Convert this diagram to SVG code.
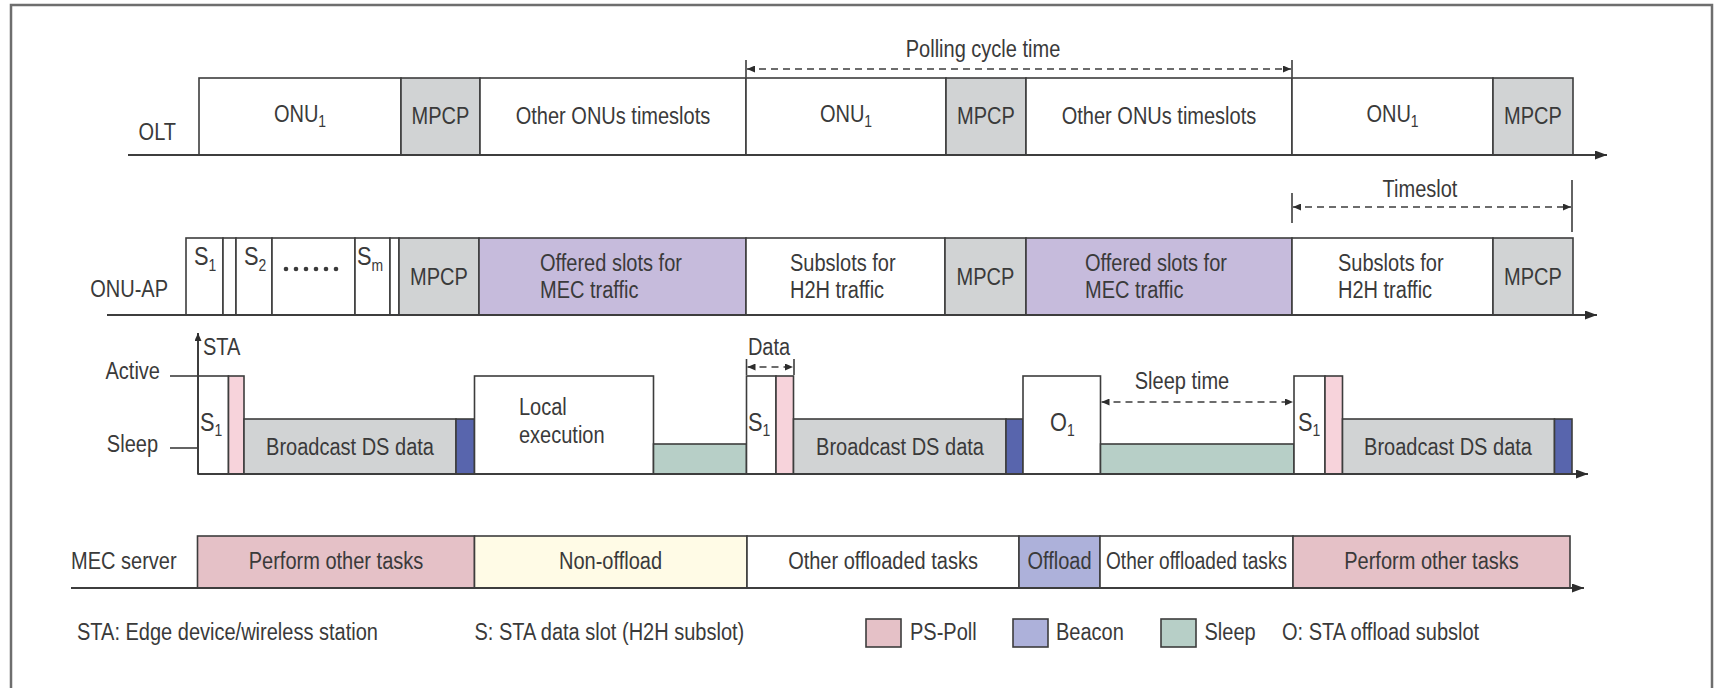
<svg xmlns="http://www.w3.org/2000/svg" width="1721" height="688" viewBox="0 0 1721 688">
<defs>
<style>
.t{font-family:"Liberation Sans",Arial,sans-serif;font-size:23px;fill:#3a3a3a}
.m{text-anchor:middle}
.e{text-anchor:end}
.sub{font-size:16px}
.big{font-size:25px}
.box{stroke:#3d3d3d;stroke-width:1.6}
.w{fill:#fff}
.g{fill:#d1d3d4}
.p{fill:#c6bbdc}
.pk{fill:#f7d3db}
.bl{fill:#5865ad}
.sl{fill:#b7cfc7}
.pf{fill:#e5c1c7}
.ye{fill:#fffbe6}
.of{fill:#adb1da}
.ax{stroke:#3d3d3d;stroke-width:2;fill:none}
.dim{stroke:#3d3d3d;stroke-width:1.6;stroke-dasharray:7 5;fill:none}
.tick{stroke:#3d3d3d;stroke-width:1.6}
.dot{fill:#3a3a3a}
</style>
<marker id="ah" viewBox="0 0 12 9" refX="12" refY="4.5" markerWidth="12" markerHeight="9" markerUnits="userSpaceOnUse" orient="auto-start-reverse"><path d="M0,0 L12,4.5 L0,9 z" fill="#2d2d2d"/></marker>
<marker id="sh" viewBox="0 0 8 7" refX="8" refY="3.5" markerWidth="8" markerHeight="7" markerUnits="userSpaceOnUse" orient="auto-start-reverse"><path d="M0,0 L8,3.5 L0,7 z" fill="#2d2d2d"/></marker>
</defs>
<rect x="0" y="0" width="1721" height="688" fill="#fff"/>
<rect id="frame" x="11" y="5" width="1701" height="720" fill="none" stroke="#6e6e6e" stroke-width="2.5"/>

<g id="polling-label"><text class="t m" transform="translate(983 57) scale(.87 1)">Polling cycle time</text></g>

<g id="olt-row">
<g id="olt-label"><text class="t e" transform="translate(176 140) scale(.87 1)">OLT</text></g>
<g id="olt-onu1-a"><rect class="box w" x="199" y="78" width="202" height="77"/><text class="t m" transform="translate(300 122) scale(.87 1)">ONU<tspan class="sub" dy="5">1</tspan></text></g>
<g id="olt-mpcp-a"><rect class="box g" x="401" y="78" width="79" height="77"/><text class="t m" transform="translate(440.5 124) scale(.87 1)">MPCP</text></g>
<g id="olt-other-a"><rect class="box w" x="480" y="78" width="266" height="77"/><text class="t m" transform="translate(613 124) scale(.87 1)">Other ONUs timeslots</text></g>
<g id="olt-onu1-b"><rect class="box w" x="746" y="78" width="200" height="77"/><text class="t m" transform="translate(846 122) scale(.87 1)">ONU<tspan class="sub" dy="5">1</tspan></text></g>
<g id="olt-mpcp-b"><rect class="box g" x="946" y="78" width="80" height="77"/><text class="t m" transform="translate(986 124) scale(.87 1)">MPCP</text></g>
<g id="olt-other-b"><rect class="box w" x="1026" y="78" width="266" height="77"/><text class="t m" transform="translate(1159 124) scale(.87 1)">Other ONUs timeslots</text></g>
<g id="olt-onu1-c"><rect class="box w" x="1292" y="78" width="201" height="77"/><text class="t m" transform="translate(1392.5 122) scale(.87 1)">ONU<tspan class="sub" dy="5">1</tspan></text></g>
<g id="olt-mpcp-c"><rect class="box g" x="1493" y="78" width="80" height="77"/><text class="t m" transform="translate(1533 124) scale(.87 1)">MPCP</text></g>
</g>

<g id="timeslot-label"><text class="t m" transform="translate(1420 197) scale(.87 1)">Timeslot</text></g>

<g id="onuap-row">
<g id="onuap-label"><text class="t e" transform="translate(168 297) scale(.87 1)">ONU-AP</text></g>
<g id="ap-s1"><rect class="box w" x="186" y="238" width="37" height="77"/><text class="t big" transform="translate(194 265) scale(.87 1)">S<tspan class="sub" dy="6">1</tspan></text></g>
<g id="ap-gap1"><rect class="box w" x="223" y="238" width="13" height="77"/></g>
<g id="ap-s2"><rect class="box w" x="236" y="238" width="36" height="77"/><text class="t big" transform="translate(244 265) scale(.87 1)">S<tspan class="sub" dy="6">2</tspan></text></g>
<g id="ap-dots"><rect class="box w" x="272" y="238" width="83" height="77"/>
<circle class="dot" cx="286" cy="269" r="2.3"/><circle class="dot" cx="296" cy="269" r="2.3"/><circle class="dot" cx="306" cy="269" r="2.3"/><circle class="dot" cx="316" cy="269" r="2.3"/><circle class="dot" cx="326" cy="269" r="2.3"/><circle class="dot" cx="336" cy="269" r="2.3"/></g>
<g id="ap-sm"><rect class="box w" x="355" y="238" width="35" height="77"/><text class="t big" transform="translate(357 265) scale(.87 1)">S<tspan class="sub" dy="6">m</tspan></text></g>
<g id="ap-gap2"><rect class="box w" x="390" y="238" width="9" height="77"/></g>
<g id="ap-mpcp-a"><rect class="box g" x="399" y="238" width="80" height="77"/><text class="t m" transform="translate(439 285) scale(.87 1)">MPCP</text></g>
<g id="ap-offered-a"><rect class="box p" x="479" y="238" width="267" height="77"/><text class="t" transform="translate(540 271) scale(.87 1)">Offered slots for</text><text class="t" transform="translate(540 298) scale(.87 1)">MEC traffic</text></g>
<g id="ap-subslots-a"><rect class="box w" x="746" y="238" width="199" height="77"/><text class="t" transform="translate(790 271) scale(.87 1)">Subslots for</text><text class="t" transform="translate(790 298) scale(.87 1)">H2H traffic</text></g>
<g id="ap-mpcp-b"><rect class="box g" x="945" y="238" width="81" height="77"/><text class="t m" transform="translate(985.5 285) scale(.87 1)">MPCP</text></g>
<g id="ap-offered-b"><rect class="box p" x="1026" y="238" width="266" height="77"/><text class="t" transform="translate(1085 271) scale(.87 1)">Offered slots for</text><text class="t" transform="translate(1085 298) scale(.87 1)">MEC traffic</text></g>
<g id="ap-subslots-b"><rect class="box w" x="1292" y="238" width="201" height="77"/><text class="t" transform="translate(1338 271) scale(.87 1)">Subslots for</text><text class="t" transform="translate(1338 298) scale(.87 1)">H2H traffic</text></g>
<g id="ap-mpcp-c"><rect class="box g" x="1493" y="238" width="80" height="77"/><text class="t m" transform="translate(1533 285) scale(.87 1)">MPCP</text></g>
</g>

<g id="sta-row">
<g id="sta-label"><text class="t" transform="translate(203 355) scale(.87 1)">STA</text></g>
<g id="active-label"><text class="t e" transform="translate(160 379) scale(.87 1)">Active</text></g>
<g id="sleep-label"><text class="t e" transform="translate(158 452) scale(.87 1)">Sleep</text></g>
<g id="sta-s1-a"><rect class="box w" x="198" y="376" width="30.5" height="98"/><text class="t big" transform="translate(200 431) scale(.87 1)">S<tspan class="sub" dy="5">1</tspan></text></g>
<g id="sta-pspoll-a"><rect class="box pk" x="228.5" y="376" width="15.5" height="98"/></g>
<g id="sta-bcast-a"><rect class="box g" x="244" y="419" width="212" height="55"/><text class="t m" transform="translate(350 455) scale(.87 1)">Broadcast DS data</text></g>
<g id="sta-beacon-a"><rect class="box bl" x="456" y="419" width="18.5" height="55"/></g>
<g id="sta-local"><rect class="box w" x="474.5" y="376" width="179" height="98"/><text class="t" transform="translate(519 415) scale(.87 1)">Local</text><text class="t" transform="translate(519 443) scale(.87 1)">execution</text></g>
<g id="sta-sleep-a"><rect class="box sl" x="653.5" y="444" width="93" height="30"/></g>
<g id="data-label"><text class="t m" transform="translate(769 355) scale(.87 1)">Data</text></g>
<g id="sta-s1-b"><rect class="box w" x="746.5" y="376" width="29.5" height="98"/><text class="t big" transform="translate(748 431) scale(.87 1)">S<tspan class="sub" dy="5">1</tspan></text></g>
<g id="sta-pspoll-b"><rect class="box pk" x="776" y="376" width="17.5" height="98"/></g>
<g id="sta-bcast-b"><rect class="box g" x="793.5" y="419" width="212.5" height="55"/><text class="t m" transform="translate(900 455) scale(.87 1)">Broadcast DS data</text></g>
<g id="sta-beacon-b"><rect class="box bl" x="1006" y="419" width="17" height="55"/></g>
<g id="sta-o1"><rect class="box w" x="1023" y="376" width="77.5" height="98"/><text class="t big" transform="translate(1050 431) scale(.87 1)">O<tspan class="sub" dy="5">1</tspan></text></g>
<g id="sleep-time-label"><text class="t m" transform="translate(1182 389) scale(.87 1)">Sleep time</text></g>
<g id="sta-sleep-b"><rect class="box sl" x="1100.5" y="444" width="193.5" height="30"/></g>
<g id="sta-s1-c"><rect class="box w" x="1294" y="376" width="31" height="98"/><text class="t big" transform="translate(1298 431) scale(.87 1)">S<tspan class="sub" dy="5">1</tspan></text></g>
<g id="sta-pspoll-c"><rect class="box pk" x="1325" y="376" width="17.5" height="98"/></g>
<g id="sta-bcast-c"><rect class="box g" x="1342.5" y="419" width="212" height="55"/><text class="t m" transform="translate(1448 455) scale(.87 1)">Broadcast DS data</text></g>
<g id="sta-beacon-c"><rect class="box bl" x="1554.5" y="419" width="17.5" height="55"/></g>
</g>

<g id="mec-row">
<g id="mec-label"><text class="t" transform="translate(71 569) scale(.87 1)">MEC server</text></g>
<g id="mec-perform-a"><rect class="box pf" x="197.5" y="536" width="277" height="52"/><text class="t m" transform="translate(336 569) scale(.87 1)">Perform other tasks</text></g>
<g id="mec-nonoffload"><rect class="box ye" x="474.5" y="536" width="272.5" height="52"/><text class="t m" transform="translate(610.5 569) scale(.87 1)">Non-offload</text></g>
<g id="mec-other-a"><rect class="box w" x="747" y="536" width="272" height="52"/><text class="t m" transform="translate(883 569) scale(.87 1)">Other offloaded tasks</text></g>
<g id="mec-offload"><rect class="box of" x="1019" y="536" width="81" height="52"/><text class="t m" transform="translate(1059.5 569) scale(.87 1)">Offload</text></g>
<g id="mec-other-b"><rect class="box w" x="1100" y="536" width="193" height="52"/><text class="t m" transform="translate(1196.5 569) scale(.87 1)" textLength="208" lengthAdjust="spacingAndGlyphs">Other offloaded tasks</text></g>
<g id="mec-perform-b"><rect class="box pf" x="1293" y="536" width="277" height="52"/><text class="t m" transform="translate(1431.5 569) scale(.87 1)">Perform other tasks</text></g>
</g>

<g id="legend">
<g id="legend-sta"><text class="t" transform="translate(77 640) scale(.87 1)">STA: Edge device/wireless station</text></g>
<g id="legend-s"><text class="t" transform="translate(474.5 640) scale(.87 1)">S: STA data slot (H2H subslot)</text></g>
<g id="legend-pspoll"><rect class="box pf" x="866" y="619" width="35" height="28"/><text class="t" transform="translate(910 640) scale(.87 1)">PS-Poll</text></g>
<g id="legend-beacon"><rect class="box of" x="1013" y="619" width="35" height="28"/><text class="t" transform="translate(1056 640) scale(.87 1)">Beacon</text></g>
<g id="legend-sleep"><rect class="box sl" x="1161" y="619" width="35" height="28"/><text class="t" transform="translate(1204.5 640) scale(.87 1)">Sleep</text></g>
<g id="legend-o"><text class="t" transform="translate(1282 640) scale(.87 1)">O: STA offload subslot</text></g>
</g>

<g id="connectors">
<line class="ax" x1="128" y1="155" x2="1607" y2="155" marker-end="url(#ah)"/>
<line class="ax" x1="107" y1="315" x2="1597" y2="315" marker-end="url(#ah)"/>
<line class="ax" x1="198" y1="474" x2="1588" y2="474" marker-end="url(#ah)"/>
<line class="ax" x1="198" y1="474" x2="198" y2="333" marker-end="url(#sh)"/>
<line class="tick" x1="170" y1="376" x2="198" y2="376"/>
<line class="tick" x1="170" y1="448" x2="198" y2="448"/>
<line class="ax" x1="71" y1="588" x2="1584" y2="588" marker-end="url(#ah)"/>
<line class="dim" x1="747" y1="69" x2="1291" y2="69" marker-start="url(#sh)" marker-end="url(#sh)"/>
<line class="tick" x1="746" y1="60" x2="746" y2="77"/>
<line class="tick" x1="1292" y1="60" x2="1292" y2="77"/>
<line class="dim" x1="1293" y1="207" x2="1571" y2="207" marker-start="url(#sh)" marker-end="url(#sh)"/>
<line class="tick" x1="1292" y1="193" x2="1292" y2="223"/>
<line class="tick" x1="1572" y1="180" x2="1572" y2="232"/>
<line class="dim" x1="747.5" y1="367" x2="793" y2="367" marker-start="url(#sh)" marker-end="url(#sh)"/>
<line class="tick" x1="746.5" y1="359" x2="746.5" y2="375"/>
<line class="tick" x1="794" y1="359" x2="794" y2="375"/>
<line class="dim" x1="1101.5" y1="402" x2="1293" y2="402" marker-start="url(#sh)" marker-end="url(#sh)"/>
</g>
</svg>
